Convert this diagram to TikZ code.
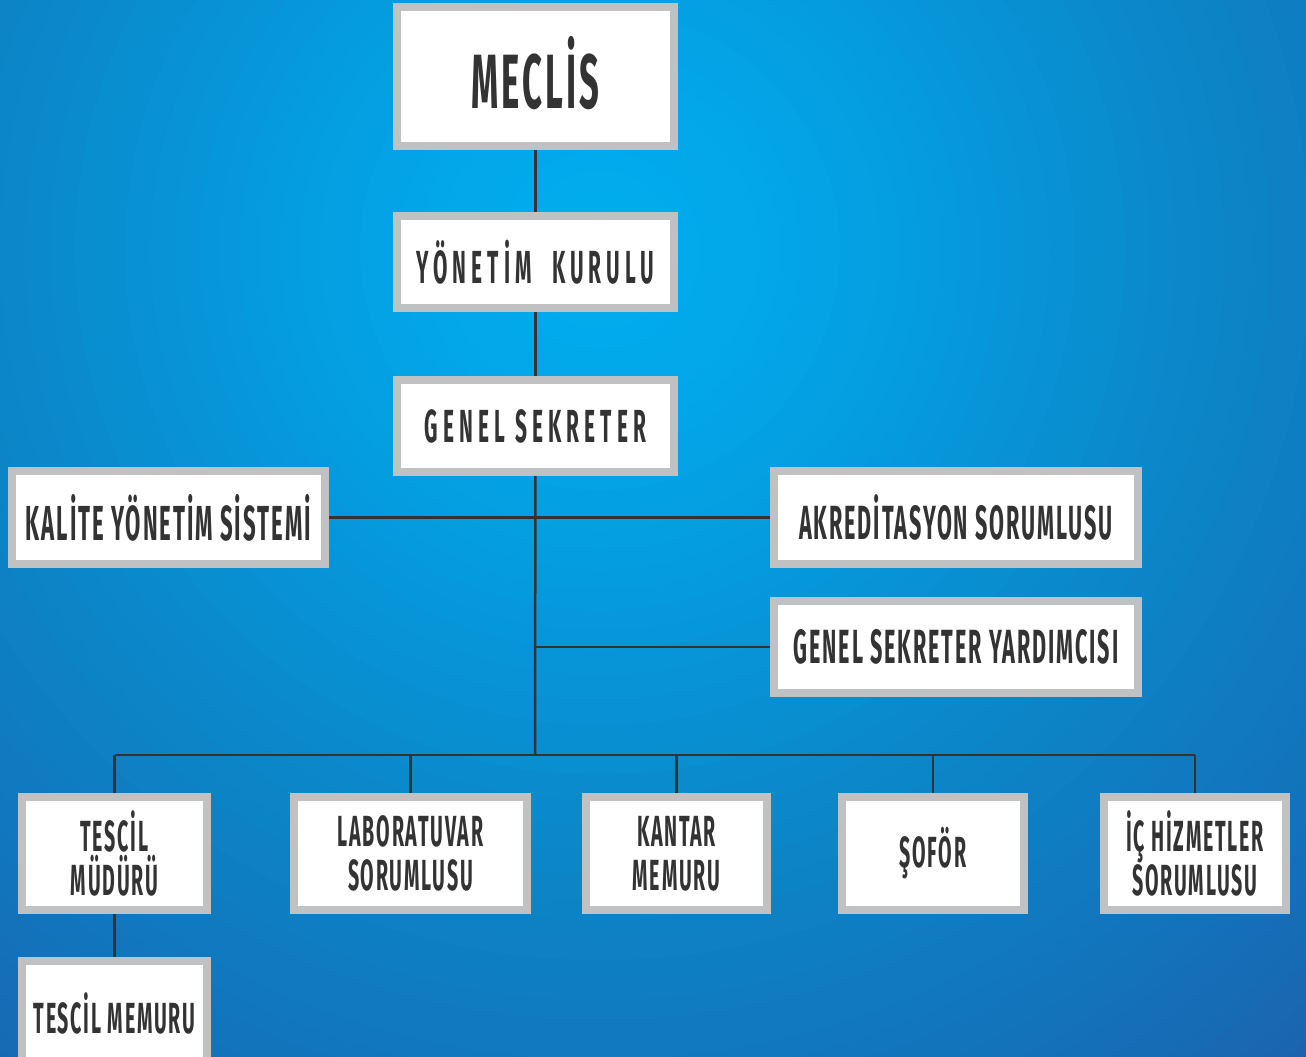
\documentclass[tikz,border=0pt]{standalone}
\usepackage{fontspec}
\usetikzlibrary{positioning}
\newfontfamily\orgfont{Fira Sans}[FakeStretch=0.45, LetterSpace=4]
\newfontfamily\orgwide{Fira Sans}[FakeStretch=0.45, LetterSpace=11]
\definecolor{glow0}{HTML}{00AEEF}
\definecolor{glow1}{HTML}{02A6E8}
\definecolor{glow2}{HTML}{0697DA}
\definecolor{glow3}{HTML}{0C84C6}
\definecolor{glow4}{HTML}{1176BD}
\definecolor{glow5}{HTML}{176BB4}
\definecolor{glow6}{HTML}{205AA4}
\definecolor{boxgray}{HTML}{C0C1C3}
\definecolor{ink}{HTML}{333333}

\begin{document}
\begin{tikzpicture}[x=0.02cm, y=-0.02cm]

\tikzset{unit/.style = {shape=rectangle, draw=boxgray, line width=0.16cm, fill=white, inner sep=0pt, text=ink, align=center}}
\tikzset{link/.style = {draw=ink, line width=0.05cm}}
\tikzset{sz/.style 2 args = {font=\orgfont\bfseries\fontsize{#1}{#2}\selectfont}}
\tikzset{szwide/.style = {font=\orgwide\bfseries\fontsize{#1}{#1}\selectfont}}

\useasboundingbox (0,0) rectangle (1306,1056);
%background
\begin{scope}
\clip (0,0) rectangle (1306,1056);
\foreach \rb/\ra/\cb/\ca in {1150/1000/glow6/glow5, 1000/850/glow5/glow4, 850/650/glow4/glow3, 650/400/glow3/glow2, 400/200/glow2/glow1, 200/0/glow1/glow0}
  \foreach \t in {0,...,9}{
    \pgfmathtruncatemacro\p{10*\t}
    \pgfmathsetmacro\r{\rb-(\rb-\ra)*\t/10}
    \fill[\ca!\p!\cb] (600,250) circle [radius=\r*0.02cm];
  }
\end{scope}

%boxes
\node[unit, sz={43.8}{44}, text depth=0.16cm, minimum width=5.54cm, minimum height=2.78cm] (meclis) at (535.5,76.5) {MECLİS};
\node[unit, szwide=26.4, minimum width=5.54cm, minimum height=1.84cm] (yonetim) at (535.5,262) {YÖNETİM\ \ KURULU};
\node[unit, szwide=26.4, minimum width=5.54cm, minimum height=1.84cm] (genel) at (535.5,426) {GENEL SEKRETER};
\node[unit, sz={28}{29}, minimum width=6.26cm, minimum height=1.86cm] (kalite) at (168.5,517.5) {KALİTE YÖNETİM SİSTEMİ};
\node[unit, sz={27.3}{28}, minimum width=7.28cm, minimum height=1.86cm] (akred) at (956,517.5) {AKREDİTASYON SORUMLUSU};
\node[unit, sz={27.3}{28}, minimum width=7.28cm, minimum height=1.84cm] (gsy) at (956,647) {GENEL SEKRETER YARDIMCISI};

\node[unit, sz={24.8}{25}, minimum width=3.70cm, minimum height=2.26cm] (tescil) at (114.5,853.5) {TESCİL\\MÜDÜRÜ};
\node[unit, sz={24.8}{25}, minimum width=4.66cm, minimum height=2.26cm] (lab) at (410.5,853.5) {LABORATUVAR\\SORUMLUSU};
\node[unit, sz={24.8}{25}, minimum width=3.62cm, minimum height=2.26cm] (kantar) at (676.5,853.5) {KANTAR\\MEMURU};
\node[unit, sz={24.8}{25}, minimum width=3.64cm, minimum height=2.26cm] (sofor) at (933,853.5) {ŞOFÖR};
\node[unit, sz={24.8}{25}, minimum width=3.64cm, minimum height=2.26cm] (ic) at (1195,853.5) {İÇ HİZMETLER\\SORUMLUSU};
\node[unit, sz={24.8}{25}, minimum width=3.70cm, minimum height=2.10cm] (tmemur) at (114.5,1013.5) {TESCİL MEMURU};

%lines
\coordinate (bus) at (535,755);
\path[link] (meclis) -- (yonetim);
\path[link] (yonetim) -- (genel);
\path[link] (genel) -- (bus);
\path[link] (kalite) -- (akred);
\path[link] (gsy.west) -- (gsy.west -| bus);
\path[link] (tescil.north |- bus) -- (ic.north |- bus);
\foreach \n in {tescil,lab,kantar,sofor,ic}
  \path[link] (\n) -- (\n |- bus);
\path[link] (tescil) -- (tmemur);
\end{tikzpicture}
\end{document}
